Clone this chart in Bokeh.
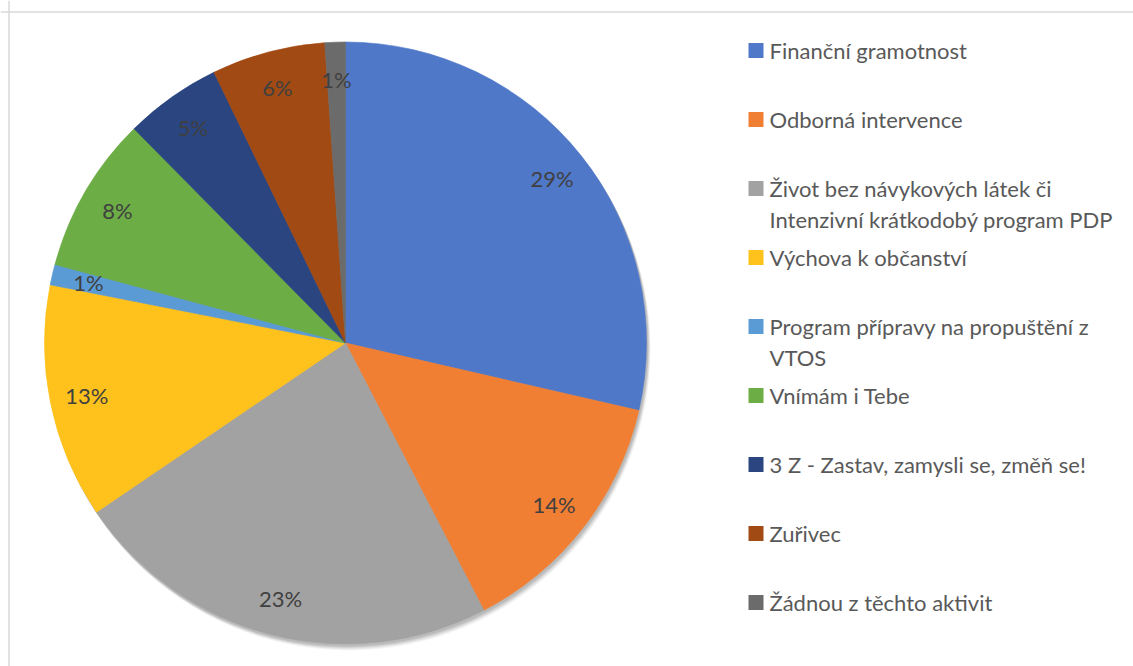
import math
from bokeh.plotting import figure
from bokeh.models import Range1d, Span, ColumnDataSource
from bokeh.core.properties import value
from bokeh.embed import file_html
from bokeh.resources import INLINE

# ---- data ----
categories = [
    "Finanční gramotnost",
    "Odborná intervence",
    "Život bez návykových látek či Intenzivní krátkodobý program PDP",
    "Výchova k občanství",
    "Program přípravy na propuštění z VTOS",
    "Vnímám i Tebe",
    "3 Z - Zastav, zamysli se, změň se!",
    "Zuřivec",
    "Žádnou z těchto aktivit",
]
legend_labels = [
    "Finanční gramotnost",
    "Odborná intervence",
    "Život bez návykových látek či\nIntenzivní krátkodobý program PDP",
    "Výchova k občanství",
    "Program přípravy na propuštění z\nVTOS",
    "Vnímám i Tebe",
    "3 Z - Zastav, zamysli se, změň se!",
    "Zuřivec",
    "Žádnou z těchto aktivit",
]
shares = [28.6, 13.8, 23.1, 12.6, 1.1, 8.4, 5.2, 6.1, 1.1]
colors = ["#4f78c9", "#f07f33", "#a2a2a2", "#ffc21c", "#5b9bd5",
          "#6cad45", "#2a4580", "#a24a13", "#6b6b6b"]

# ---- layout (pixel-like data space, y up) ----
W, H = 1133, 666
cx, cy, R = 345, H - 342.5, 301
label_r = 264
FONT = "Lato"

p = figure(width=W, height=H, output_backend="svg", toolbar_location=None,
           x_range=Range1d(0, W), y_range=Range1d(0, H), min_border=0)
p.axis.visible = False
p.grid.visible = False
p.outline_line_color = None
p.background_fill_color = "white"
p.border_fill_color = "white"

# chart border (top and left visible)
p.add_layout(Span(location=H - 11.5, dimension="width", line_color="#d9d9d9", line_width=1.5))
p.add_layout(Span(location=8.5, dimension="height", line_color="#d9d9d9", line_width=1.5))

# soft shadow
for off, a in [(6, 0.04), (5, 0.05), (4, 0.06), (3, 0.07), (2, 0.08)]:
    p.circle(x=[cx + off * 0.6], y=[cy - off], radius=R + 0.5, fill_color="black",
             fill_alpha=a, line_color=None)

total = sum(shares)
starts, ends, mids = [], [], []
cum = 0.0
for v in shares:
    a0 = cum / total
    cum += v
    a1 = cum / total
    # clockwise from 12 o'clock
    starts.append(math.pi / 2 - 2 * math.pi * a1)
    ends.append(math.pi / 2 - 2 * math.pi * a0)
    mids.append(math.pi / 2 - 2 * math.pi * (a0 + a1) / 2)

src = ColumnDataSource(dict(start=starts, end=ends, color=colors))
p.wedge(x=cx, y=cy, radius=R, start_angle="start", end_angle="end",
        direction="anticlock", fill_color="color", line_color="color",
        line_width=0.6, source=src)

# percentage labels
lx = [cx + label_r * math.cos(m) for m in mids]
ly = [cy + label_r * math.sin(m) for m in mids]
ltxt = [f"{round(v / total * 100)}%" for v in shares]
p.text(x=lx, y=ly, text=ltxt, text_align="center", text_baseline="middle",
       text_font=value(FONT), text_font_size="22px", text_color="#404040")

# legend
leg_x = 748
leg_top = H - 50
slot = 69
line_gap = 31
sq_x, sq_y, tx, ty, tt = [], [], [], [], []
for i, lab in enumerate(legend_labels):
    y0 = leg_top - i * slot
    sq_x.append(leg_x + 7.5)
    sq_y.append(y0)
    for k, line in enumerate(lab.split("\n")):
        tx.append(leg_x + 21)
        ty.append(y0 - k * line_gap)
        tt.append(line)
p.rect(x=sq_x, y=sq_y, width=15, height=15, fill_color=colors, line_color=None)
p.text(x=tx, y=ty, text=tt, text_align="left", text_baseline="middle",
       text_font=value(FONT), text_font_size="22px", text_color="#595959")

open("out.html", "w").write(file_html(p, INLINE))
